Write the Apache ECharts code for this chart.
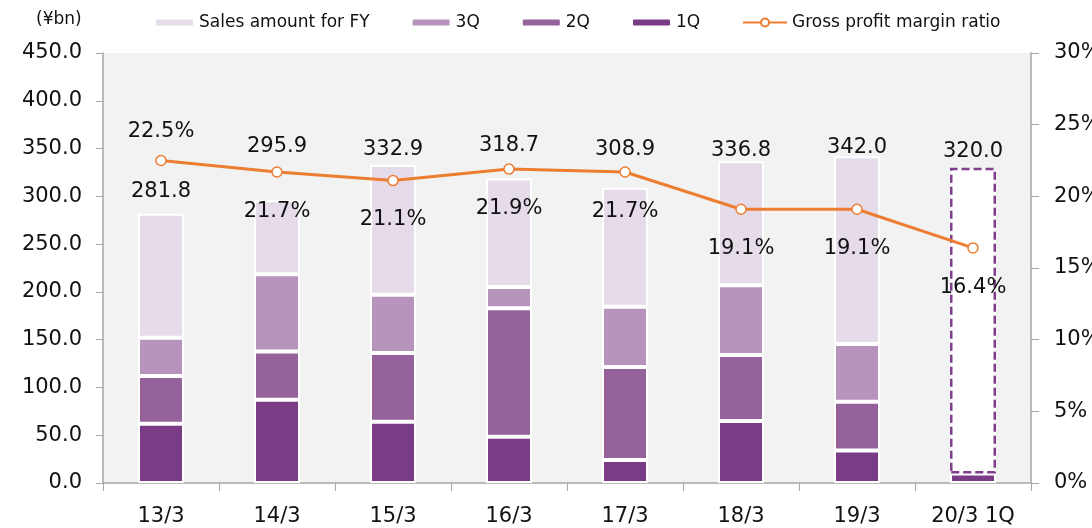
<!DOCTYPE html>
<html>
<head>
<meta charset="utf-8">
<title>Sales and gross profit margin</title>
<script src="https://cdn.jsdelivr.net/npm/echarts@6/dist/echarts.min.js"></script>
<style>
  html, body { margin: 0; padding: 0; background: #fff; }
  #chart { width: 1092px; height: 528px; }
</style>
</head>
<body>
<div id="chart"></div>
<script>
// fiscal years
var categories = ['13/3', '14/3', '15/3', '16/3', '17/3', '18/3', '19/3', '20/3 1Q'];
// sales per quarter (¥bn)
var sales1Q = [62, 87, 64, 48.5, 24, 65, 34, 10];
var sales2Q = [50, 50.5, 72, 134.5, 97.5, 69, 51, null];
var sales3Q = [40, 81, 61, 22, 63, 73, 60.5, null];
// full year sales, the last one is the forecast
var salesFY = [281.8, 295.9, 332.9, 318.7, 308.9, 336.8, 342.0, 320.0];
// gross profit margin ratio (%)
var marginRatio = [22.5, 21.7, 21.1, 21.9, 21.7, 19.1, 19.1, 16.4];
var forecastIndex = 7;

// label nudges (px) so the totals don't sit on the line
var totalLabelShift = [-7, -38, 0, -17, -23, 5, 7, -1];

var font = 'DejaVu Sans, Verdana, sans-serif';
var textColor = '#111';
var axisGrey = '#a6a6a6';

// part of the bar above 3Q
var restData = salesFY.map(function (total, i) {
  var item = {
    value: i === forecastIndex ? total : +(total - sales1Q[i] - sales2Q[i] - sales3Q[i]).toFixed(1),
    label: { offset: [0, totalLabelShift[i]] }
  };
  if (i === forecastIndex) {
    item.itemStyle = {
      color: '#ffffff',
      borderColor: '#7f3f8c',
      borderWidth: 2.5,
      borderType: [8, 4]
    };
  }
  return item;
});

var marginData = marginRatio.map(function (v, i) {
  if (i === 0) {
    return { value: v, label: { position: 'top', distance: 13 } };
  }
  return v;
});

function barSeries(name, data, color) {
  return {
    name: name,
    type: 'bar',
    stack: 'sales',
    barWidth: 46,
    data: data,
    itemStyle: { color: color, borderColor: '#fff', borderWidth: 2 }
  };
}

var chart = echarts.init(document.getElementById('chart'));
var option = {
  animation: false,
  textStyle: { fontFamily: font, color: textColor },
  title: {
    text: '(¥bn)',
    left: 31,
    top: 6,
    textStyle: { fontFamily: font, fontSize: 17, fontWeight: 'normal', color: textColor }
  },
  legend: [
    {
      data: ['Sales amount for FY', '3Q', '2Q', '1Q'],
      left: 149,
      top: 9,
      itemWidth: 39,
      itemHeight: 8,
      itemGap: 41,
      textStyle: { fontFamily: font, fontSize: 17, color: textColor }
    },
    {
      data: ['Gross profit margin ratio'],
      left: 737,
      top: 9,
      itemWidth: 44,
      itemHeight: 10,
      textStyle: { fontFamily: font, fontSize: 17, color: textColor }
    }
  ],
  grid: {
    left: 103,
    right: 61,
    top: 53,
    bottom: 45,
    outerBoundsMode: 'none',
    containLabel: false,
    show: true,
    backgroundColor: '#f2f2f2',
    borderWidth: 0
  },
  xAxis: {
    type: 'category',
    data: categories,
    axisLine: { lineStyle: { color: axisGrey, width: 1.5 } },
    axisTick: { show: true, length: 8, lineStyle: { color: axisGrey } },
    axisLabel: { fontSize: 21, color: textColor, margin: 23, fontFamily: font }
  },
  yAxis: [
    {
      type: 'value',
      min: 0,
      max: 450,
      interval: 50,
      splitLine: { show: false },
      axisLine: { show: true, lineStyle: { color: axisGrey, width: 1.5 } },
      axisTick: { show: true, length: 7, lineStyle: { color: axisGrey } },
      axisLabel: {
        fontSize: 21,
        color: textColor,
        margin: 21,
        fontFamily: font,
        formatter: function (v) { return v.toFixed(1); }
      }
    },
    {
      type: 'value',
      min: 0,
      max: 30,
      interval: 5,
      splitLine: { show: false },
      axisLine: { show: true, lineStyle: { color: axisGrey, width: 1.5 } },
      axisTick: { show: true, length: 8, lineStyle: { color: axisGrey } },
      axisLabel: {
        fontSize: 21,
        color: textColor,
        margin: 23,
        fontFamily: font,
        formatter: '{value}%'
      }
    }
  ],
  series: [
    barSeries('1Q', sales1Q, '#7b3c86'),
    barSeries('2Q', sales2Q, '#95629c'),
    barSeries('3Q', sales3Q, '#b794bc'),
    {
      name: 'Sales amount for FY',
      type: 'bar',
      stack: 'sales',
      barWidth: 46,
      data: restData,
      itemStyle: { color: '#e6dbe9', borderColor: '#fff', borderWidth: 2 },
      label: {
        show: true,
        position: 'top',
        fontSize: 21,
        color: textColor,
        fontFamily: font,
        formatter: function (p) { return salesFY[p.dataIndex].toFixed(1); }
      }
    },
    {
      name: 'Gross profit margin ratio',
      type: 'line',
      yAxisIndex: 1,
      data: marginData,
      symbol: 'circle',
      symbolSize: 10,
      z: 5,
      lineStyle: { color: '#ed7d31', width: 3 },
      itemStyle: { color: '#fff', borderColor: '#ed7d31', borderWidth: 1.5 },
      label: {
        show: true,
        position: 'bottom',
        distance: 23,
        fontSize: 21,
        color: textColor,
        fontFamily: font,
        formatter: function (p) { return p.value.toFixed(1) + '%'; }
      }
    }
  ]
};
chart.setOption(option);
</script>
</body>
</html>
